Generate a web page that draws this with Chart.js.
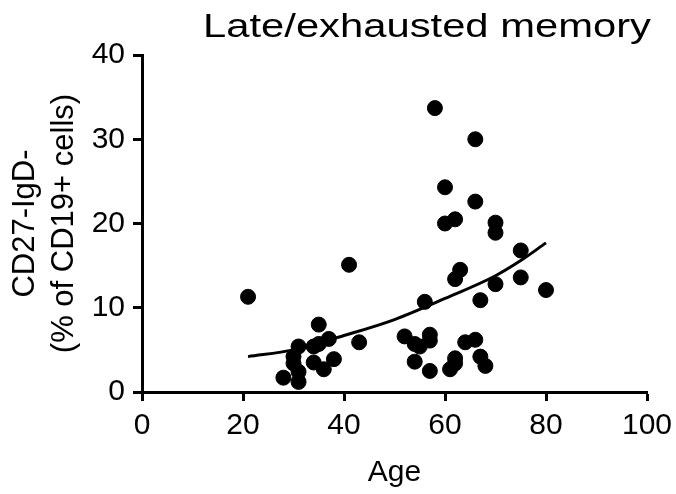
<!DOCTYPE html>
<html>
<head>
<meta charset="utf-8">
<script src="https://cdn.jsdelivr.net/npm/chart.js@4"></script>
<style>
  html, body { margin: 0; padding: 0; background: #fff; }
  #wrap { width: 676px; height: 494px; }
</style>
</head>
<body>
<div id="wrap"><canvas id="chart1"></canvas></div>
<script>
const ages = [21, 41, 35, 37, 43, 31, 34, 35, 30, 30, 34, 38, 36, 31, 28, 31,
              52, 58, 66, 60, 66, 60, 62, 70, 70, 75, 63, 62, 70, 75, 80, 56,
              67, 54, 55, 57, 57, 64, 66, 54, 57, 62, 62, 61, 67, 68];
const values = [11.3, 15.1, 8.0, 6.3, 5.9, 5.4, 5.4, 5.7, 4.2, 3.4, 3.5, 3.9, 2.7, 2.4, 1.7, 1.2,
                6.6, 33.7, 30.0, 24.3, 22.6, 20.0, 20.5, 20.1, 18.9, 16.8, 14.5, 13.4, 12.8, 13.6, 12.1, 10.7,
                10.9, 5.7, 5.4, 6.8, 6.1, 5.9, 6.2, 3.6, 2.5, 4.0, 3.4, 2.7, 4.2, 3.1];
const fitAges = [21, 30, 40, 50, 60, 70, 75, 80];
const fitValues = [4.2, 5.0, 6.7, 8.6, 11.1, 13.8, 15.6, 17.7];
const xTicks = [0, 20, 40, 60, 80, 100];
const yTicks = [0, 10, 20, 30, 40];

const titleText = 'Late/exhausted memory';

// title drawn by hand so it can sit off-centre and be stretched like the original
const titlePlugin = {
    id: 'stretchTitle',
    afterDraw(chart) {
        const ctx = chart.ctx;
        ctx.save();
        ctx.font = '34px "Liberation Sans", Arial, sans-serif';
        ctx.fillStyle = '#000';
        ctx.textBaseline = 'alphabetic';
        const w = ctx.measureText(titleText).width;
        const sx = 448 / w;
        ctx.translate(203, 37);
        ctx.scale(sx, 1);
        ctx.fillText(titleText, 0, 0);
        ctx.restore();
    }
};

const points = ages.map((a, i) => ({ x: a, y: values[i] }));
const fitLine = fitAges.map((a, i) => ({ x: a, y: fitValues[i] }));

const tickFont = { family: '"Liberation Sans", Arial, sans-serif', size: 30 };

new Chart(document.querySelector('#chart1').getContext('2d'), {
    type: 'scatter',
    data: {
        datasets: [{
            label: 'data',
            data: points,
            backgroundColor: '#000',
            borderColor: '#000',
            pointRadius: 7.5,
            pointHoverRadius: 7.5
        }, {
            label: 'fit',
            type: 'line',
            data: fitLine,
            borderColor: '#000',
            borderWidth: 3,
            pointRadius: 0,
            fill: false,
            tension: 0.4,
            cubicInterpolationMode: 'monotone'
        }]
    },
    options: {
        responsive: true,
        maintainAspectRatio: false,
        animation: false,
        layout: { padding: { top: 55, right: 29, left: 0, bottom: 0 } },
        plugins: {
            legend: { display: false },
            tooltip: { enabled: false },
            title: { display: false }
        },
        scales: {
            x: {
                type: 'linear',
                min: 0,
                max: 100,
                afterBuildTicks: s => { s.ticks = xTicks.map(v => ({ value: v })); },
                afterFit: s => { s.height = 102; s.paddingLeft = 0; s.paddingRight = 0; },
                border: { display: true, color: '#000', width: 3 },
                grid: { drawOnChartArea: false, drawTicks: true, tickLength: 9, tickWidth: 3, tickColor: '#000' },
                ticks: { color: '#000', font: tickFont, padding: 7, maxRotation: 0 },
                title: {
                    display: true,
                    text: 'Age',
                    color: '#000',
                    font: { family: '"Liberation Sans", Arial, sans-serif', size: 30 },
                    padding: { top: 0, bottom: 3 }
                }
            },
            y: {
                type: 'linear',
                min: 0,
                max: 40,
                afterBuildTicks: s => { s.ticks = yTicks.map(v => ({ value: v })); },
                afterFit: s => { s.width = 142; s.paddingTop = 0; s.paddingBottom = 0; },
                border: { display: true, color: '#000', width: 3 },
                grid: { drawOnChartArea: false, drawTicks: true, tickLength: 9, tickWidth: 3, tickColor: '#000' },
                ticks: { color: '#000', font: tickFont, padding: 8 },
                title: {
                    display: true,
                    text: ['CD27-IgD-', '(% of CD19+ cells)'],
                    color: '#000',
                    font: { family: '"Liberation Sans", Arial, sans-serif', size: 31, lineHeight: 1.25 },
                    padding: { top: 6, bottom: 0 }
                }
            }
        }
    },
    plugins: [titlePlugin]
});
</script>
</body>
</html>
